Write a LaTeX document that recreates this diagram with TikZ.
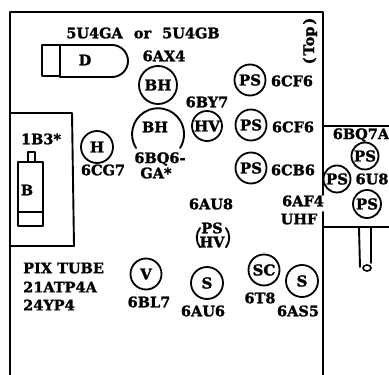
\documentclass[tikz,border=0pt]{standalone}
\usepackage{fontspec}
\setmainfont[BoldFeatures={FakeBold=1.6}]{DejaVu Serif}
\tikzset{
  ln/.style={line width=1.9pt,black,line join=round,line cap=round},
  tube/.style={circle,draw,line width=1.8pt,inner sep=0pt,minimum size=#1,font=\fontsize{15}{15}\bfseries},
  tube/.default=31pt,
  lab/.style={inner sep=0pt,font=\fontsize{14.5}{14.5}\bfseries,text=black},
  ll/.style={lab,anchor=west},
}
\begin{document}
\begin{tikzpicture}[x=1pt,y=-1pt]
\useasboundingbox[fill=white] (0,0) rectangle (389,375);
% frame
\draw[ln] (10,375) -- (10,12) -- (323,12) -- (323,195);
\draw[ln] (323,212) -- (323,375);
% right box
\draw[ln] (323,126) -- (389,126);
\draw[ln] (323,227) -- (389,227);
\draw[ln] (359,228) -- (360,267);
\draw[ln] (371,228) -- (371,263);
\draw[line width=1.6pt] (367,268) ellipse (4pt and 3pt);
% picture tube box
\draw[ln] (10,113) -- (72,113) -- (74,246) -- (10,246);
\draw[ln] (28,162) -- (28,152) -- (35,152) -- (35,162);
\draw[ln] (18,162) rectangle (43,226);
\draw[ln] (18,212) -- (43,212);
% rectifier
\draw[ln] (60,45) -- (42,45) -- (42,76) -- (60,76);
\draw[ln] (60,45) -- (60,77);
\draw[ln] (60,45) -- (112,45) arc[start angle=-90,end angle=90,radius=16] -- (60,77);
\node[lab] (d) at (85,60) {D};
\node[lab] (b) at (27,190) {B};
% large open tube
\draw[ln] (136,148) arc[start angle=148,end angle=392,radius=26];
\node[lab] (bhb) at (155,127) {BH};
% parenthesis tube
\draw[ln] (200,228) arc[start angle=217,end angle=143,radius=16];
\draw[ln] (226,228) arc[start angle=-37,end angle=37,radius=16];
\node[lab] (psb) at (212,228) {PS};
\node[lab] (hvb) at (212,242) {HV};
% tubes
\node[tube=38pt] (bh) at (158,85) {BH};
\node[tube=32pt] (h) at (97,147) {H};
\node[tube] (ps1) at (250,80) {PS};
\node[tube] (ps2) at (251,125) {PS};
\node[tube] (ps3) at (251,168) {PS};
\node[tube=30pt] (hv) at (207,126) {HV};
\node[tube] (v) at (146,274) {V};
\node[tube=32pt] (s1) at (207,283) {S};
\node[tube=31pt] (sc) at (264,270) {SC};
\node[tube=32pt] (s2) at (302,281) {S};
\node[tube=27pt] (ps4) at (365,156) {PS};
\node[tube=27pt] (ps5) at (337,179) {PS};
\node[tube=28pt] (ps6) at (367,204) {PS};
% labels
\node[lab] (t1) at (143,33) {5U4GA\hspace{6pt} or\hspace{6pt} 5U4GB};
\node[lab] (t2) at (164,56) {6AX4};
\node[lab] (t3) at (103,170) {6CG7};
\node[lab] (t4) at (160,159) {6BQ6-};
\node[lab] (t5) at (156,173) {GA*};
\node[lab] (t6) at (41,139) {1B3*};
\node[lab,rotate=90] (t7) at (310,41) {(\hspace{2pt}Top\hspace{2pt})};
\node[lab] (t8) at (207,102) {6BY7};
\node[lab] (t9) at (292,81) {6CF6};
\node[lab] (t10) at (293,127) {6CF6};
\node[lab] (t11) at (293,170) {6CB6};
\node[lab] (t12) at (211,204) {6AU8};
\node[lab] (t13) at (303,201) {6AF4};
\node[lab] (t14) at (299,219) {UHF};
\node[lab] (t15) at (361,135) {6BQ7A};
\node[lab] (t16) at (372,179) {6U8};
\node[ll] (t17) at (23,268) {PIX TUBE};
\node[ll] (t18) at (23,287) {21ATP4A};
\node[ll] (t19) at (23,305) {24YP4};
\node[lab] (t20) at (149,302) {6BL7};
\node[lab] (t21) at (203,311) {6AU6};
\node[lab] (t22) at (260,298) {6T8};
\node[lab] (t23) at (298,311) {6AS5};
\end{tikzpicture}
\end{document}
